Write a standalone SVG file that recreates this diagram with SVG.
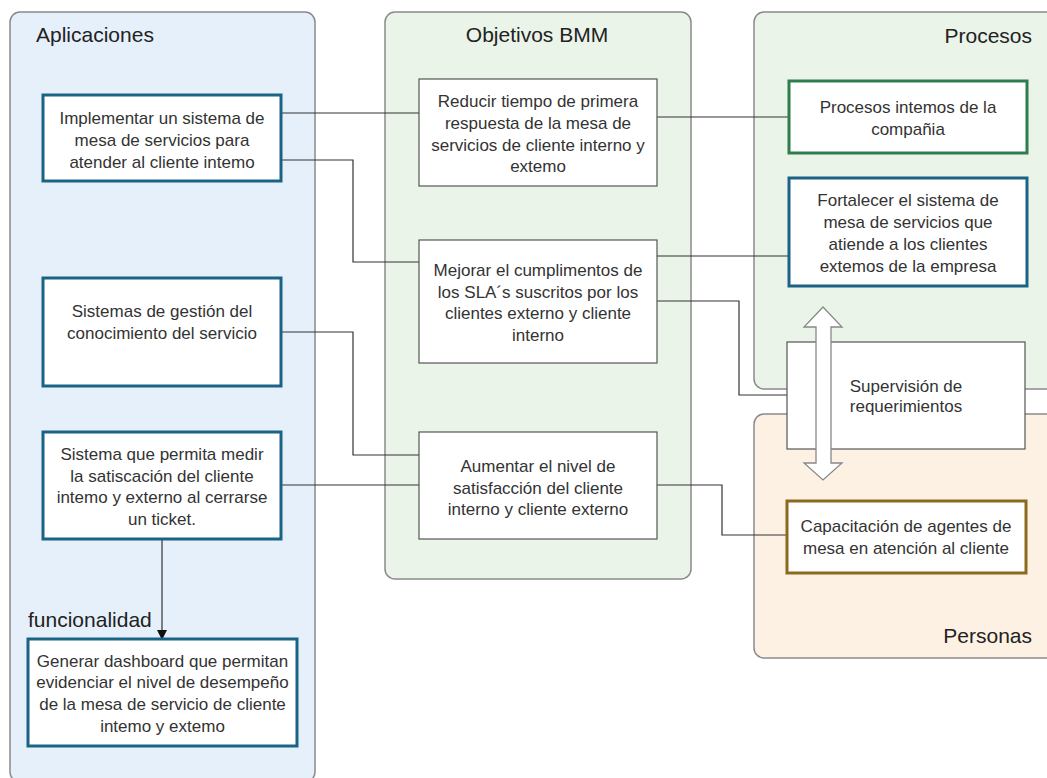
<svg xmlns="http://www.w3.org/2000/svg" width="1047" height="778" viewBox="0 0 1047 778">
  <style>
    .lane { stroke: #8a8a8a; stroke-width: 1.5; }
    .blue { fill: #e6f0fb; }
    .green { fill: #eaf4e9; }
    .peach { fill: #fdf1e4; }
    .title { font-family: "Liberation Sans", Arial, sans-serif; font-size: 21px; fill: #222; }
    .app { fill: #fff; stroke: #1a6385; stroke-width: 3; }
    .proc { fill: #fff; stroke: #2f7d4d; stroke-width: 3; }
    .ppl { fill: #fff; stroke: #8b6a1e; stroke-width: 3; }
    .goal { fill: #fff; stroke: #555; stroke-width: 1.2; }
    .txt { font-family: "Liberation Sans", Arial, sans-serif; font-size: 17px; fill: #333; text-anchor: middle; }
    .wire { fill: none; stroke: #333; stroke-width: 1.2; }
  </style>
  <defs>
    <marker id="arrow" markerWidth="10" markerHeight="10" refX="9" refY="5" orient="auto" markerUnits="userSpaceOnUse">
      <path d="M0,0 L10,5 L0,10 Z" fill="#111"/>
    </marker>
  </defs>

  <rect width="1047" height="778" fill="#fff"/>

  <!-- lanes -->
  <g id="lane-aplicaciones">
    <rect class="lane blue" x="10" y="12" width="305" height="770" rx="10"/>
    <text class="title" x="36" y="42">Aplicaciones</text>
  </g>
  <g id="lane-objetivos">
    <rect class="lane green" x="385" y="12" width="306" height="567" rx="10"/>
    <text class="title" x="537" y="42" text-anchor="middle">Objetivos BMM</text>
  </g>
  <g id="lane-procesos">
    <rect class="lane green" x="754" y="12" width="320" height="377" rx="10"/>
    <text class="title" x="1032" y="43" text-anchor="end">Procesos</text>
  </g>
  <g id="lane-personas">
    <rect class="lane peach" x="754" y="414" width="320" height="244" rx="10"/>
    <text class="title" x="1032" y="643" text-anchor="end">Personas</text>
  </g>

  <!-- connectors -->
  <g id="connectors">
    <path class="wire" d="M281,113 H419"/>
    <path class="wire" d="M281,160 H353 V262 H419"/>
    <path class="wire" d="M657,117 H789"/>
    <path class="wire" d="M657,256 H789"/>
    <path class="wire" d="M657,301 H739 V395 H787"/>
    <path class="wire" d="M281,332 H353 V455 H419"/>
    <path class="wire" d="M281,485 H419"/>
    <path class="wire" d="M657,485 H722 V535 H787"/>
    <path class="wire" d="M162,539 V639" marker-end="url(#arrow)"/>
  </g>

  <!-- Aplicaciones nodes -->
  <g id="app-implementar">
    <rect class="app" x="43" y="95" width="238" height="86"/>
    <text class="txt" x="162" y="124">Implementar un sistema de</text>
    <text class="txt" x="162" y="146">mesa de servicios para</text>
    <text class="txt" x="162" y="168">atender al cliente intemo</text>
  </g>
  <g id="app-conocimiento">
    <rect class="app" x="43" y="278" width="238" height="108"/>
    <text class="txt" x="162" y="317">Sistemas de gestión del</text>
    <text class="txt" x="162" y="339">conocimiento del servicio</text>
  </g>
  <g id="app-satisfaccion">
    <rect class="app" x="43" y="432" width="238" height="107"/>
    <text class="txt" x="162" y="460">Sistema que permita medir</text>
    <text class="txt" x="162" y="482">la satiscación del cliente</text>
    <text class="txt" x="162" y="503">intemo y externo al cerrarse</text>
    <text class="txt" x="162" y="525">un ticket.</text>
  </g>
  <g id="app-dashboard">
    <text class="title" x="28" y="627">funcionalidad</text>
    <rect class="app" x="28" y="639" width="269" height="107"/>
    <text class="txt" x="162.5" y="667">Generar dashboard que permitan</text>
    <text class="txt" x="162.5" y="688">evidenciar el nivel de desempeño</text>
    <text class="txt" x="162.5" y="710">de la mesa de servicio de cliente</text>
    <text class="txt" x="162.5" y="732">intemo y extemo</text>
  </g>

  <!-- Objetivos nodes -->
  <g id="goal-reducir">
    <rect class="goal" x="419" y="79" width="238" height="107"/>
    <text class="txt" x="538" y="107">Reducir tiempo de primera</text>
    <text class="txt" x="538" y="129">respuesta de la mesa de</text>
    <text class="txt" x="538" y="151">servicios de cliente interno y</text>
    <text class="txt" x="538" y="172">extemo</text>
  </g>
  <g id="goal-mejorar">
    <rect class="goal" x="419" y="240" width="238" height="123"/>
    <text class="txt" x="538" y="276">Mejorar el cumplimentos de</text>
    <text class="txt" x="538" y="298">los SLA´s suscritos por los</text>
    <text class="txt" x="538" y="319">clientes externo y cliente</text>
    <text class="txt" x="538" y="341">interno</text>
  </g>
  <g id="goal-aumentar">
    <rect class="goal" x="419" y="432" width="238" height="107"/>
    <text class="txt" x="538" y="472">Aumentar el nivel de</text>
    <text class="txt" x="538" y="494">satisfacción del cliente</text>
    <text class="txt" x="538" y="515">interno y cliente externo</text>
  </g>

  <!-- Procesos nodes -->
  <g id="proc-internos">
    <rect class="proc" x="789" y="81" width="238" height="72"/>
    <text class="txt" x="908" y="113">Procesos intemos de la</text>
    <text class="txt" x="908" y="135">compañia</text>
  </g>
  <g id="proc-fortalecer">
    <rect class="app" x="789" y="178" width="238" height="108"/>
    <text class="txt" x="908" y="206">Fortalecer el sistema de</text>
    <text class="txt" x="908" y="228">mesa de servicios que</text>
    <text class="txt" x="908" y="250">atiende a los clientes</text>
    <text class="txt" x="908" y="272">extemos de la empresa</text>
  </g>

  <!-- Supervisión straddling both lanes -->
  <g id="supervision">
    <rect class="goal" x="787" y="342" width="238" height="107"/>
    <text class="txt" x="906" y="392">Supervisión de</text>
    <text class="txt" x="906" y="412">requerimientos</text>
    <path d="M823,307 L842,327 L831,327 L831,463 L842,463 L823,480 L804,463 L816,463 L816,327 L804,327 Z" fill="#fff" stroke="#888" stroke-width="1.3" stroke-linejoin="miter"/>
  </g>

  <!-- Personas node -->
  <g id="ppl-capacitacion">
    <rect class="ppl" x="787" y="501" width="239" height="72"/>
    <text class="txt" x="906" y="532">Capacitación de agentes de</text>
    <text class="txt" x="906" y="554">mesa en atención al cliente</text>
  </g>
</svg>
